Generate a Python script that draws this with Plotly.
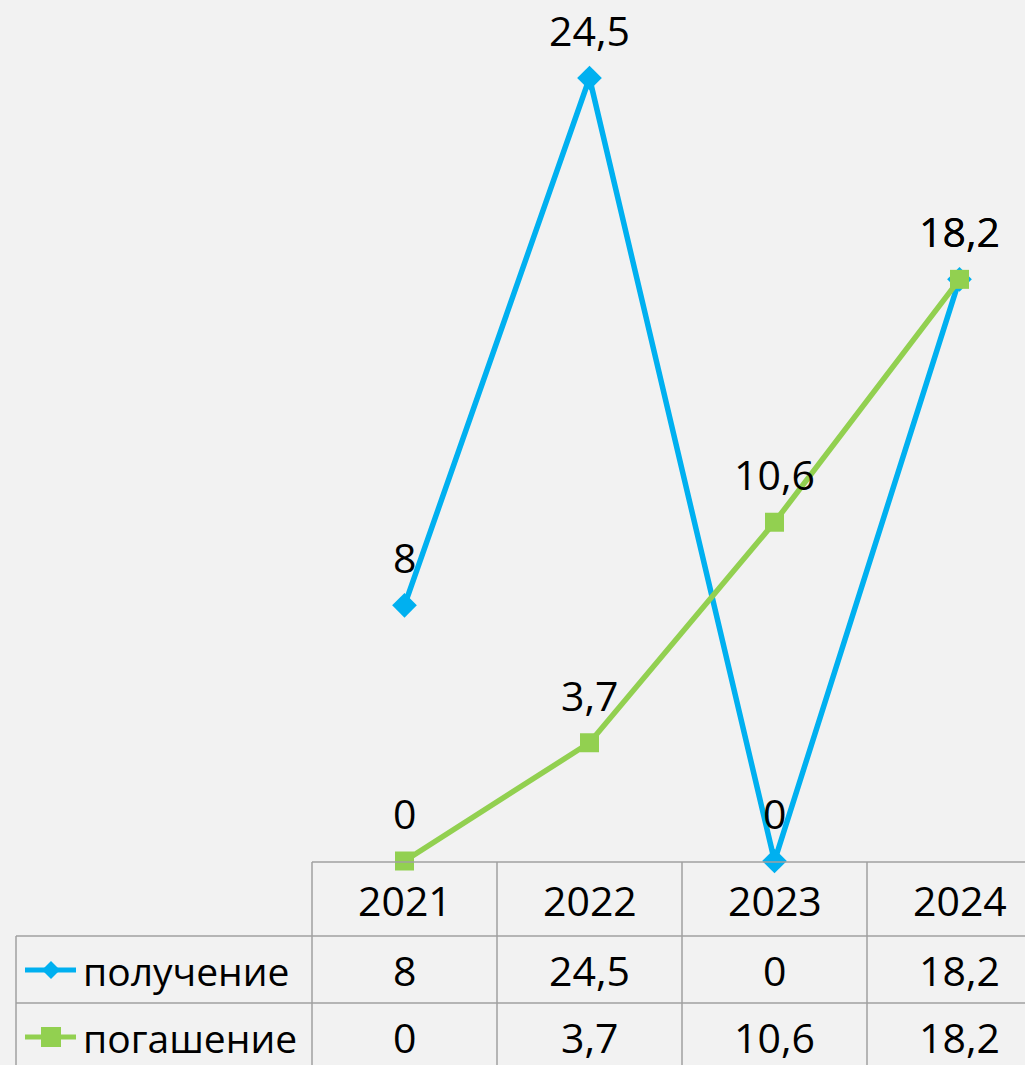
import plotly.graph_objects as go

years = ["2021", "2022", "2023", "2024"]
poluchenie = [8, 24.5, 0, 18.2]
pogashenie = [0, 3.7, 10.6, 18.2]
series_names = ["получение", "погашение"]
label_poluchenie = ["8", "24,5", "0", "18,2"]
label_pogashenie = ["0", "3,7", "10,6", "18,2"]

W, H = 1025, 1065
ML, MT, MB = 312, 0, 204
PH = H - MT - MB
PW = W - ML
COL = 185.0
PPU = (861 - 78) / 24.5

BLUE = "#00b0f0"
GREEN = "#92d050"
GRID = "#a0a0a0"
FONT = "Open Sans"
FS = 41


def pxp(px):
    return (px - ML) / PW


def pyp(py):
    return (MT + PH - py) / PH


xs = list(range(len(years)))
fig = go.Figure()
fig.add_trace(go.Scatter(x=xs, y=poluchenie, mode="lines+markers", name=series_names[0],
                         line=dict(color=BLUE, width=5.5),
                         marker=dict(symbol="diamond", size=19, color=BLUE),
                         cliponaxis=False, showlegend=False))
fig.add_trace(go.Scatter(x=xs, y=pogashenie, mode="lines+markers", name=series_names[1],
                         line=dict(color=GREEN, width=5.5),
                         marker=dict(symbol="square", size=19, color=GREEN),
                         cliponaxis=False, showlegend=False))

ann = []
for i in xs:
    ann.append(dict(x=i, y=poluchenie[i], xref="x", yref="y", text=label_poluchenie[i],
                    showarrow=False, yshift=48, font=dict(size=FS, color="black", family=FONT)))
    ann.append(dict(x=i, y=pogashenie[i], xref="x", yref="y", text=label_pogashenie[i],
                    showarrow=False, yshift=48, font=dict(size=FS, color="black", family=FONT)))
    ann.append(dict(x=i, y=pyp(900), xref="x", yref="paper", text=years[i], showarrow=False,
                    yanchor="middle", font=dict(size=FS, color="black", family=FONT)))
    ann.append(dict(x=i, y=pyp(970), xref="x", yref="paper", text=label_poluchenie[i], showarrow=False,
                    yanchor="middle", font=dict(size=FS, color="black", family=FONT)))
    ann.append(dict(x=i, y=pyp(1037), xref="x", yref="paper", text=label_pogashenie[i], showarrow=False,
                    yanchor="middle", font=dict(size=FS, color="black", family=FONT)))

for name, yc in zip(series_names, [970, 1037]):
    ann.append(dict(x=pxp(81), y=pyp(yc), xref="paper", yref="paper", text=name, showarrow=False,
                    xanchor="left", yanchor="middle", font=dict(size=39, color="black", family=FONT)))

shapes = []
line = dict(color=GRID, width=1.5)
shapes.append(dict(type="line", xref="paper", yref="paper", x0=pxp(312), x1=pxp(W), y0=pyp(862), y1=pyp(862), line=line))
for yy in [936, 1003]:
    shapes.append(dict(type="line", xref="paper", yref="paper", x0=pxp(16), x1=pxp(W), y0=pyp(yy), y1=pyp(yy), line=line))
for xx in [312, 497, 682, 867]:
    shapes.append(dict(type="line", xref="paper", yref="paper", x0=pxp(xx), x1=pxp(xx), y0=pyp(862), y1=pyp(H + 5), line=line))
shapes.append(dict(type="line", xref="paper", yref="paper", x0=pxp(16), x1=pxp(16), y0=pyp(936), y1=pyp(H + 5), line=line))

for col, yc, sym in [(BLUE, 970, "diamond"), (GREEN, 1037, "square")]:
    shapes.append(dict(type="line", xref="paper", yref="paper", x0=pxp(25), x1=pxp(76), y0=pyp(yc), y1=pyp(yc),
                       line=dict(color=col, width=5)))
    cx, cy = 51, yc
    if sym == "diamond":
        path = "M {} {} L {} {} L {} {} L {} {} Z".format(pxp(cx - 9), pyp(cy), pxp(cx), pyp(cy - 9),
                                                           pxp(cx + 9), pyp(cy), pxp(cx), pyp(cy + 9))
        shapes.append(dict(type="path", xref="paper", yref="paper", path=path, fillcolor=col, line=dict(width=0)))
    else:
        shapes.append(dict(type="rect", xref="paper", yref="paper", x0=pxp(cx - 10), x1=pxp(cx + 10),
                           y0=pyp(cy - 10), y1=pyp(cy + 10), fillcolor=col, line=dict(width=0)))

fig.update_layout(
    width=W, height=H,
    margin=dict(l=ML, r=0, t=MT, b=MB, pad=0),
    paper_bgcolor="#f2f2f2", plot_bgcolor="#f2f2f2",
    xaxis=dict(visible=False, range=[-0.5, -0.5 + PW / COL], fixedrange=True),
    yaxis=dict(visible=False, range=[0, PH / PPU], fixedrange=True),
    annotations=ann, shapes=shapes, showlegend=False,
)

fig.write_html("out.html")
